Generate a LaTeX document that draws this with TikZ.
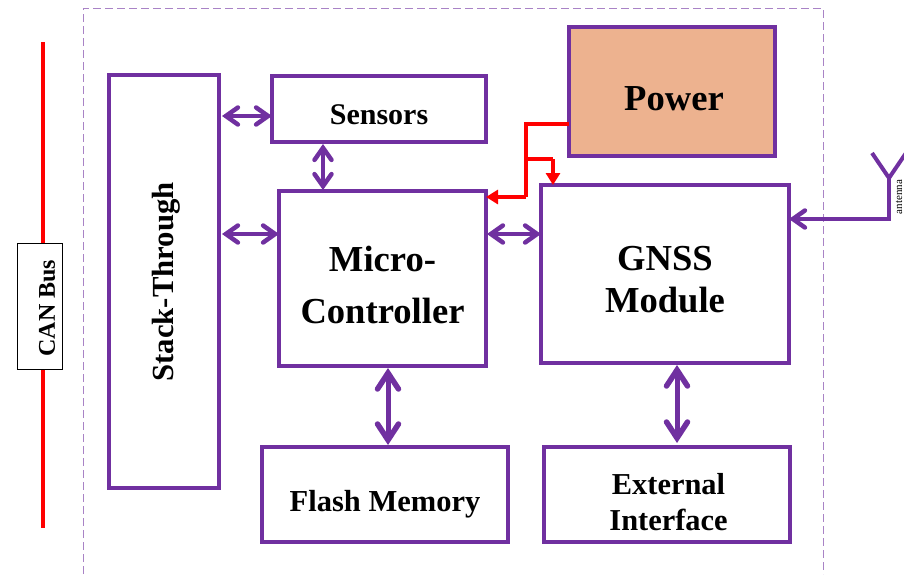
\documentclass[tikz,border=0pt]{standalone}
\usepackage{fontspec}
\setmainfont{Liberation Serif}
\usetikzlibrary{arrows.meta,calc}
\definecolor{pur}{HTML}{7030A0}
\definecolor{pow}{HTML}{EDB28F}
\tikzset{
  x=1pt,y=-1pt,
  box/.style={draw=pur,line width=4pt,inner sep=0pt,outer sep=0pt,align=center,font=\bfseries,line join=miter},
  smalltip/.tip={Straight Barb[length=12pt,width=17pt,line width=4.5pt,line cap=round]},
  bigtip/.tip={Straight Barb[length=16pt,width=21pt,line width=5.5pt,line cap=round]},
  biarrow/.style={draw=pur,line width=4pt,smalltip-smalltip},
  bigarrow/.style={draw=pur,line width=5pt,bigtip-bigtip},
  redline/.style={draw=red,line width=4pt},
  redarrow/.style={redline,-{Triangle[length=12pt,width=14pt]}},
  fs/.style={font=\bfseries\fontsize{#1}{#1}\selectfont}
}
\newcommand{\boxnode}[7][]{\node[box,minimum width=#5-#3,minimum height=#6-#4,#1] (#2) at ({(#3+#5)/2},{(#4+#6)/2}) {#7};}
\newcommand{\lowered}[2]{\raisebox{0pt}[\dimexpr\height+#1pt*2\relax][\depth]{\begin{tabular}{@{}c@{}}#2\end{tabular}}}
\begin{document}
\begin{tikzpicture}
\useasboundingbox (0,0) rectangle (904,574);
% dashed frame
\coordinate (fbl) at (83,574);
\coordinate (ftl) at (83,8);
\coordinate (ftr) at (823,8);
\coordinate (fbr) at (823,574);
\draw[pur!60,line width=1pt,dash pattern=on 8pt off 4pt] (fbl) -- (ftl) -- (ftr) -- (fbr);
% CAN bus
\coordinate (cantop) at (43,42);
\coordinate (canbot) at (43,528);
\node[draw=black,line width=1pt,fill=white,inner sep=0pt,minimum width=45pt,minimum height=126pt] (can) at (39.5,306) {};
\draw[red,line width=4.4pt] (cantop) -- (can.north -| cantop);
\draw[red,line width=4.4pt] (can.south -| canbot) -- (canbot);
\node[rotate=90,fs=24,inner sep=0pt] (cantxt) at (47,308) {CAN Bus};
% boxes
\boxnode{stack}{109}{75}{219}{488}{}
\node[rotate=90,fs=30.7,inner sep=0pt] (stacktxt) at (166.5,282) {Stack-Through};
\boxnode[fs=30]{sensors}{272}{76}{486}{142}{\lowered{9}{Sensors}}
\boxnode[fs=36.6]{micro}{279}{191}{486}{366}{\lowered{11.5}{Micro-\\[15pt]Controller}}
\boxnode[fs=36.6]{gnss}{541}{185}{789}{363}{\lowered{10.5}{GNSS\\[5.4pt]Module}}
\boxnode[fs=36.6,fill=pow]{power}{569}{27}{775}{156}{\hspace*{4pt}\lowered{12}{Power}}
\boxnode[fs=30.5]{flash}{262}{447}{508}{542}{\lowered{11}{Flash Memory}}
\boxnode[fs=30.4]{ext}{544}{447}{790}{542}{\hspace*{3pt}\lowered{12}{External\\[5.6pt]Interface}}
% purple connectors
\coordinate (a1) at (stack.east |- 0,116);
\coordinate (a2) at (sensors.west |- 0,116);
\draw[biarrow,shorten <=3pt] (a1) -- (a2);
\coordinate (b1) at (stack.east |- 0,234);
\coordinate (b2) at (micro.west |- 0,234);
\draw[biarrow,shorten <=3pt] (b1) -- (b2);
\coordinate (c1) at (323,142);
\coordinate (c2) at (323,191);
\draw[biarrow,shorten <=2pt,shorten >=1pt] (sensors.south -| c1) -- (micro.north -| c2);
\coordinate (d1) at (micro.east |- 0,234);
\coordinate (d2) at (gnss.west |- 0,234);
\draw[biarrow,shorten <=1pt] (d1) -- (d2);
\coordinate (e1) at (388,366);
\draw[bigarrow,shorten <=2pt,shorten >=2pt] (micro.south -| e1) -- (flash.north -| e1);
\coordinate (f1) at (677,363);
\draw[bigarrow,shorten <=2pt,shorten >=4pt] (gnss.south -| f1) -- (ext.north -| f1);
% antenna
\coordinate (ant) at (889,219);
\coordinate (anttop) at (889,178);
\coordinate (armL) at (872,153);
\coordinate (armR) at (906,153);
\draw[pur,line width=4pt,line join=miter,smalltip-] (gnss.east |- ant) -- (ant) -- (anttop);
\draw[pur,line width=4pt] (armL) -- (anttop) -- (armR);
\node[rotate=90,font=\fontsize{11}{12}\selectfont,inner sep=0pt] (anttxt) at (899,197) {antenna};
% power
\coordinate (r1) at (526,124);
\coordinate (r2) at (526,197);
\coordinate (r3) at (526,159);
\coordinate (r4) at (553,159);
\draw[redline,line join=miter] (power.west |- r1) -- (r1) -- (r2);
\draw[redarrow] (r2) -- (micro.east |- r2);
\draw[redline] (r3) -- (r4);
\draw[redarrow] (r4) -- (gnss.north -| r4);
\end{tikzpicture}
\end{document}
